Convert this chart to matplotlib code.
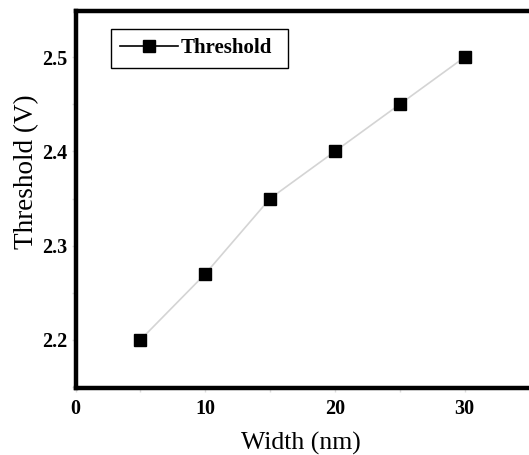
import matplotlib
matplotlib.use("Agg")
import matplotlib.pyplot as plt

width_nm = [5, 10, 15, 20, 25, 30]
threshold_v = [2.20, 2.27, 2.35, 2.40, 2.45, 2.50]
x_ticks = [0, 10, 20, 30]
y_ticks = [2.2, 2.3, 2.4, 2.5]

plt.rcParams['font.family'] = ['Liberation Serif', 'DejaVu Serif']

W, H = 529, 455
fig = plt.figure(figsize=(W / 100, H / 100), dpi=100)
left_px, right_px, top_px, bottom_px = 75.5, 540, 11, 388
ax = fig.add_axes([left_px / W, 1 - bottom_px / H, (right_px - left_px) / W, (bottom_px - top_px) / H])

ax.plot(width_nm, threshold_v, color='#d4d4d4', lw=1.2, marker='s', markersize=8.8,
        markerfacecolor='black', markeredgecolor='black', label='Threshold', zorder=3)

ax.set_xlim(0, (right_px - left_px) / 12.97)
ax.set_ylim(2.149, 2.549)
ax.set_xticks(x_ticks)
ax.set_xticks([5, 15, 25], minor=True)
ax.set_yticks(y_ticks)
ax.set_yticks([2.15, 2.25, 2.35, 2.45], minor=True)
ax.set_yticklabels([f"{v:.1f}" for v in y_ticks])

for side in ['left', 'bottom', 'top']:
    ax.spines[side].set_linewidth(3.2)
    ax.spines[side].set_color('black')
ax.spines['right'].set_visible(False)

ax.tick_params(which='both', direction='out', length=3, width=1, color='#dddddd')
ax.tick_params(axis='x', which='major', pad=5, labelsize=14.5)
ax.tick_params(axis='y', which='major', pad=3, labelsize=14.5)
for lbl in ax.get_xticklabels() + ax.get_yticklabels():
    lbl.set_fontweight('bold')

fig.text(301 / W, 1 - 443 / H, 'Width (nm)', fontsize=18.5, ha='center', va='center')
fig.text(27 / W, 1 - 172 / H, 'Threshold (V)', fontsize=19.5, ha='center', va='center', rotation=90)

leg = ax.legend(loc='upper left',
                bbox_to_anchor=(111 / W, 1 - 67 / H, (288 - 111) / W, (67 - 29) / H),
                bbox_transform=fig.transFigure, mode='expand',
                borderaxespad=0, fancybox=False, edgecolor='black', framealpha=1,
                prop={'weight': 'bold', 'size': 15}, handlelength=2.75, handletextpad=0.15,
                borderpad=0.45, markerscale=0.95)
leg.get_frame().set_linewidth(1.0)
for h in leg.legend_handles:
    h.set_color('black')
    h.set_linewidth(1.2)

fig.savefig('out.png', dpi=100)
